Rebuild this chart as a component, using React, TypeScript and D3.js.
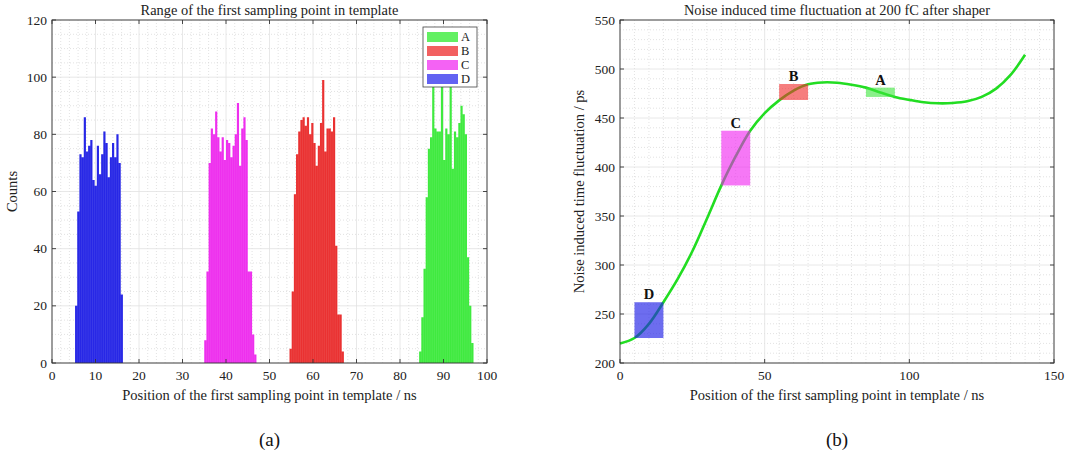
import React from "react";
import * as d3 from "d3";

// ---------- Data: panel (a) histograms (bin width 0.5 ns) ----------
const binWidth = 0.5;
const groupNames = ["A", "B", "C", "D"];
const startA = 84.4;
const countsA = [4, 16, 33, 58, 75, 79, 100, 82, 81, 81, 97, 71, 82, 80, 101, 68, 81, 79, 84, 90, 87, 80, 37, 20, 7];
const startB = 54.6;
const countsB = [5, 25, 59, 73, 81, 85, 86, 83, 86, 80, 84, 77, 69, 76, 84, 99, 74, 82, 82, 81, 86, 41, 17, 17, 4];
const startC = 35.0;
const countsC = [8, 32, 70, 82, 80, 88, 79, 74, 79, 71, 78, 77, 72, 76, 80, 91, 69, 82, 86, 78, 32, 32, 10, 3];
const startD = 5.3;
const countsD = [20, 53, 73, 72, 86, 74, 76, 78, 64, 62, 76, 66, 73, 81, 77, 65, 72, 77, 72, 80, 70, 24];

const xTicksA = [0, 10, 20, 30, 40, 50, 60, 70, 80, 90, 100];
const yTicksA = [0, 20, 40, 60, 80, 100, 120];

// ---------- Data: panel (b) curve ----------
const curveX = [0, 5, 10, 15, 20, 25, 30, 35, 40, 45, 50, 55, 60, 65, 70, 75, 80, 85, 90, 95, 100, 105, 110, 115, 120, 125, 130, 135, 140];
const curveY = [220, 225.5, 240, 262, 286, 314, 347, 381, 411, 437, 455, 468, 478, 484.5, 486.3, 486, 484, 481, 476, 471.5, 468.5, 466, 465, 465.3, 467, 471.5, 480, 494, 514.5];
const boxLabels = ["A", "B", "C", "D"];
const boxX0 = [85, 55, 35, 5];
const boxX1 = [95, 65, 45, 15];
const boxY0 = [471.5, 468.4, 381.2, 225.5];
const boxY1 = [481, 484.7, 437, 262];
const xTicksB = [0, 50, 100, 150];
const yTicksB = [200, 250, 300, 350, 400, 450, 500, 550];

const barColors = ["#3fea3f", "#ea3131", "#ee2fee", "#2727e6"];
const legendColors = ["#62f062", "#f26060", "#f462f4", "#6262f2"];
const boxColors = ["rgba(60,230,60,0.6)", "rgba(240,40,40,0.6)", "rgba(240,30,240,0.6)", "rgba(30,30,230,0.65)"];

const FONT = "'Liberation Serif', 'Times New Roman', serif";
const AXC = "#333";

function Grid({ x, y, xMajor, yMajor, xMinorStep, yMinorStep }) {
  const [x0, x1] = x.domain();
  const [y0, y1] = y.domain();
  const xMinor = d3.range(x0, x1 + 1e-9, xMinorStep).filter((v) => !xMajor.some((m) => Math.abs(m - v) < 1e-6));
  const yMinor = d3.range(y0, y1 + 1e-9, yMinorStep).filter((v) => !yMajor.some((m) => Math.abs(m - v) < 1e-6));
  return (
    <g>
      {xMinor.map((v) => (
        <line key={"xm" + v} x1={x(v)} x2={x(v)} y1={y.range()[0]} y2={y.range()[1]} stroke="#d6d6d6" strokeWidth={0.7} strokeDasharray="1,2" />
      ))}
      {yMinor.map((v) => (
        <line key={"ym" + v} x1={x.range()[0]} x2={x.range()[1]} y1={y(v)} y2={y(v)} stroke="#d6d6d6" strokeWidth={0.7} strokeDasharray="1,2" />
      ))}
      {xMajor.map((v) => (
        <line key={"xM" + v} x1={x(v)} x2={x(v)} y1={y.range()[0]} y2={y.range()[1]} stroke="#e2e2e2" strokeWidth={0.8} />
      ))}
      {yMajor.map((v) => (
        <line key={"yM" + v} x1={x.range()[0]} x2={x.range()[1]} y1={y(v)} y2={y(v)} stroke="#e2e2e2" strokeWidth={0.8} />
      ))}
    </g>
  );
}

function Frame({ x, y, xTicks, yTicks, title, xlabel, ylabel, ylabelX, panel }) {
  const [L, R] = x.range();
  const [B, T] = y.range();
  const tl = 4;
  return (
    <g fontFamily={FONT}>
      <rect x={L} y={T} width={R - L} height={B - T} fill="none" stroke={AXC} strokeWidth={0.9} />
      {xTicks.map((v) => (
        <g key={"xt" + v}>
          <line x1={x(v)} x2={x(v)} y1={B} y2={B - tl} stroke={AXC} strokeWidth={0.9} />
          <line x1={x(v)} x2={x(v)} y1={T} y2={T + tl} stroke={AXC} strokeWidth={0.9} />
          <text x={x(v)} y={B + 17} textAnchor="middle" fontSize={13.5} fill="#222">{v}</text>
        </g>
      ))}
      {yTicks.map((v) => (
        <g key={"yt" + v}>
          <line x1={L} x2={L + tl} y1={y(v)} y2={y(v)} stroke={AXC} strokeWidth={0.9} />
          <line x1={R} x2={R - tl} y1={y(v)} y2={y(v)} stroke={AXC} strokeWidth={0.9} />
          <text x={L - 5} y={y(v) + 4.5} textAnchor="end" fontSize={13.5} fill="#222">{v}</text>
        </g>
      ))}
      <text x={(L + R) / 2} y={15} textAnchor="middle" fontSize={14.4} fill="#222">{title}</text>
      <text x={(L + R) / 2} y={B + 37} textAnchor="middle" fontSize={14.5} fill="#222">{xlabel}</text>
      <text transform={`translate(${ylabelX},${(B + T) / 2}) rotate(-90)`} textAnchor="middle" fontSize={14.5} fill="#222">{ylabel}</text>
      <text x={(L + R) / 2} y={446} textAnchor="middle" fontSize={19} fill="#111">{panel}</text>
    </g>
  );
}

function PanelA() {
  const x = d3.scaleLinear().domain([0, 100]).range([52, 487]);
  const y = d3.scaleLinear().domain([0, 120]).range([363, 20]);
  const groups = [
    { start: startA, counts: countsA },
    { start: startB, counts: countsB },
    { start: startC, counts: countsC },
    { start: startD, counts: countsD },
  ];
  return (
    <g>
      <rect x={52} y={20} width={435} height={343} fill="#fff" />
      <Grid x={x} y={y} xMajor={xTicksA} yMajor={yTicksA} xMinorStep={2} yMinorStep={5} />
      {groups.map((g, gi) => {
        const pts: [number, number][] = [[x(g.start), y(0)]];
        g.counts.forEach((c, i) => {
          const x0 = g.start + i * binWidth;
          pts.push([x(x0), y(c)]);
          pts.push([x(x0 + binWidth), y(c)]);
        });
        pts.push([x(g.start + g.counts.length * binWidth), y(0)]);
        const d = "M" + pts.map((p) => p.join(",")).join("L") + "Z";
        return (
          <g key={"g" + gi}>
            <path d={d} fill={barColors[gi]} />
            {g.counts.slice(1).map((c, i) => {
              const xe = g.start + (i + 1) * binWidth;
              const h = Math.min(c, g.counts[i]);
              return <line key={i} x1={x(xe)} x2={x(xe)} y1={y(0)} y2={y(h)} stroke="#fff" strokeOpacity={0.18} strokeWidth={0.5} />;
            })}
          </g>
        );
      })}
      <Frame x={x} y={y} xTicks={xTicksA} yTicks={yTicksA}
        title="Range of the first sampling point in template"
        xlabel="Position of the first sampling point in template / ns"
        ylabel="Counts" ylabelX={17} panel="(a)" />
      <g fontFamily={FONT}>
        <rect x={423} y={27} width={54} height={60} fill="#fff" stroke="#444" strokeWidth={0.8} />
        {groupNames.map((n, i) => (
          <g key={n}>
            <rect x={427} y={32 + i * 14} width={31} height={10} fill={legendColors[i]} />
            <text x={461} y={41 + i * 14} fontSize={12.5} fill="#222">{n}</text>
          </g>
        ))}
      </g>
    </g>
  );
}

function PanelB() {
  const x = d3.scaleLinear().domain([0, 150]).range([620, 1054]);
  const y = d3.scaleLinear().domain([200, 550]).range([363, 20]);
  const pts = curveX.map((v, i) => [v, curveY[i]]);
  const line = d3.line().x((d) => x(d[0])).y((d) => y(d[1])).curve(d3.curveCatmullRom.alpha(0.5));
  return (
    <g>
      <rect x={620} y={20} width={434} height={343} fill="#fff" />
      <Grid x={x} y={y} xMajor={xTicksB} yMajor={yTicksB} xMinorStep={5} yMinorStep={10} />
      <path d={line(pts)} fill="none" stroke="#22dd22" strokeWidth={2.6} />
      {boxLabels.map((b, i) => (
        <g key={b}>
          <rect x={x(boxX0[i])} y={y(boxY1[i])} width={x(boxX1[i]) - x(boxX0[i])} height={y(boxY0[i]) - y(boxY1[i])} fill={boxColors[i]} />
          <text x={(x(boxX0[i]) + x(boxX1[i])) / 2} y={y(boxY1[i]) - 3} textAnchor="middle" fontSize={14.5} fontWeight="bold" fontFamily={FONT} fill="#111">{b}</text>
        </g>
      ))}
      <Frame x={x} y={y} xTicks={xTicksB} yTicks={yTicksB}
        title="Noise induced time fluctuation at 200 fC after shaper"
        xlabel="Position of the first sampling point in template / ns"
        ylabel="Noise induced time fluctuation / ps" ylabelX={584} panel="(b)" />
    </g>
  );
}

export default function App() {
  return (
    <svg width={1067} height={461} style={{ position: "absolute", left: 0, top: 0, background: "#fff" }}>
      <rect width={1067} height={461} fill="#fff" />
      <PanelA />
      <PanelB />
    </svg>
  );
}
